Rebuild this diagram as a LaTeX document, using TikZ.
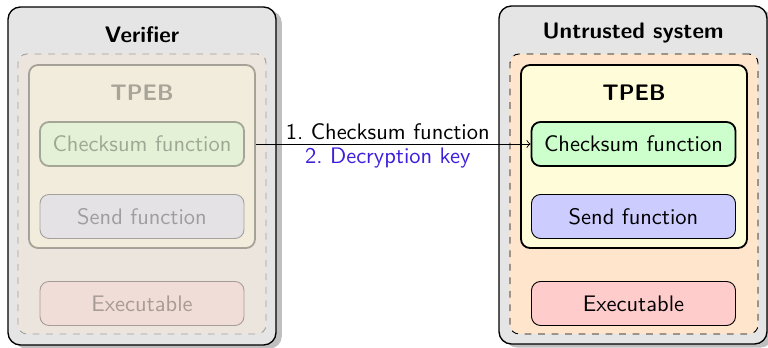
\documentclass[tikz,border=0pt]{standalone}
\usetikzlibrary{shadows}
\renewcommand{\familydefault}{\sfdefault}
\definecolor{keyblue}{RGB}{60,30,220}
\def\pxu{0.445pt}
\tikzset{
  systembox/.style={draw, rounded corners=5.5pt, fill=black!10, line width=0.6pt,
    drop shadow={shadow xshift=2.6pt, shadow yshift=-1.6pt},
    minimum width=268*\pxu, minimum height=338*\pxu, inner sep=0pt},
  memarea/.style={draw, dashed, rounded corners=4pt, fill=orange!20,
    minimum width=248*\pxu, minimum height=280*\pxu, inner sep=0pt},
  tpebbox/.style={draw, thick, rounded corners=4pt, fill=yellow!15,
    minimum width=226*\pxu, minimum height=183*\pxu, inner sep=0pt},
  fnbox/.style={draw, rounded corners=4pt, minimum width=204*\pxu,
    minimum height=44*\pxu, inner sep=0pt},
  titletext/.style={font=\bfseries},
}
\begin{document}
\begin{tikzpicture}[x=\pxu, y=-\pxu]
\useasboundingbox (0,0) rectangle (768,348);

% Verifier side
\node[systembox] (vsys) at (142,176) {};
\node[titletext] (vtitle) at (142,35) {Verifier};
\begin{scope}[opacity=0.3]
  \node[memarea] (vmem) at (142,194) {};
  \node[tpebbox] (vtpeb) at (142,156.5) {};
  \node[titletext] (vtpebl) at (142,93) {TPEB};
  \node[fnbox, thick, fill=green!20] (vcheck) at (142,144) {Checksum function};
  \node[fnbox, fill=blue!20] (vsend) at (142,216.5) {Send function};
  \node[fnbox, fill=red!20] (vexec) at (142,303.5) {Executable};
\end{scope}

% Untrusted system side
\node[systembox] (usys) at (633,175) {};
\node[titletext] (utitle) at (633,33) {Untrusted system};
\node[memarea] (umem) at (634,194) {};
\node[tpebbox] (utpeb) at (634,156.5) {};
\node[titletext] (utpebl) at (634,93) {TPEB};
\node[fnbox, thick, fill=green!20] (ucheck) at (633.5,144) {Checksum function};
\node[fnbox, fill=blue!20] (usend) at (633.5,216.5) {Send function};
\node[fnbox, fill=red!20] (uexec) at (633.5,303.5) {Executable};

% Message from verifier to the untrusted system
\draw[->] (vtpeb.east |- ucheck.west) -- (ucheck.west)
  node[pos=0.48, above, inner sep=1.5pt] (msg1) {1.\ Checksum function}
  node[pos=0.48, below, inner sep=1.5pt, text=keyblue] (msg2) {2.\ Decryption key};
\end{tikzpicture}
\end{document}
